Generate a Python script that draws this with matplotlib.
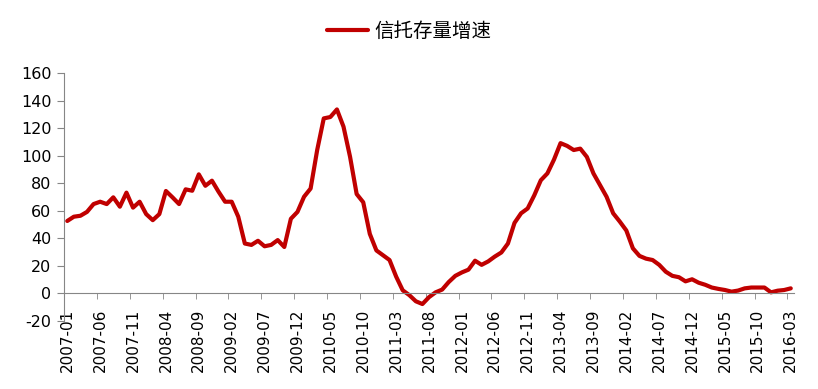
import matplotlib.pyplot as plt
import numpy as np

# 信托存量同比增速, 月度数据 2007-01 ~ 2016-03
months = [f"{y}-{m:02d}" for y in range(2007, 2017) for m in range(1, 13)][:111]

growth = [
    52.4, 55.5, 56.2, 59.0, 64.7, 66.4, 64.7, 69.6, 62.8, 73.0,
    62.1, 66.4, 57.4, 53.0, 57.4, 74.2, 69.6, 64.7, 75.4, 74.4,
    86.3, 78.0, 81.7, 73.7, 66.4, 66.4, 55.5, 36.0, 35.0, 38.0,
    34.0, 35.0, 38.5, 33.5, 54.0, 59.0, 70.0, 76.0, 104.0, 127.0,
    128.0, 133.5, 121.0, 99.0, 72.0, 66.0, 43.0, 31.0, 27.5, 24.0,
    12.0, 2.0, -1.5, -6.0, -8.0, -3.0, 0.5, 2.5, 8.0, 12.5,
    15.0, 17.0, 23.5, 20.5, 23.0, 26.5, 29.5, 36.0, 51.0, 58.0,
    61.5, 71.0, 82.0, 87.0, 97.0, 109.0, 107.0, 104.0, 105.0, 99.0,
    87.0, 78.5, 70.0, 58.0, 52.0, 45.5, 32.5, 27.0, 25.0, 24.0,
    20.5, 15.5, 12.5, 11.5, 8.5, 10.0, 7.5, 6.0, 4.0, 3.0,
    2.2, 1.0, 1.8, 3.4, 4.0, 4.0, 4.0, 0.5, 1.7, 2.2,
    3.4,
]

label_step = 5
yticks = list(range(-20, 161, 20))

plt.rcParams['font.family'] = ['Noto Sans CJK SC', 'DejaVu Sans']
plt.rcParams['axes.unicode_minus'] = False

fig = plt.figure(figsize=(8.18, 3.89), dpi=100)
ax = fig.add_axes([0.0782, 0.176, 0.8925, 0.6363])

x = np.arange(len(growth))
ax.plot(x, growth, color='#C00000', linewidth=3.0, solid_joinstyle='round',
        solid_capstyle='round', label='信托存量增速')

ax.set_xlim(-0.5, len(growth) - 0.5)
ax.set_ylim(-20, 160)

# 坐标轴样式
axis_color = '#868686'
for side in ['top', 'right']:
    ax.spines[side].set_visible(False)
ax.spines['left'].set_color(axis_color)
ax.spines['bottom'].set_color(axis_color)
ax.spines['bottom'].set_position(('data', 0))

ax.set_yticks(yticks)
ax.tick_params(axis='y', direction='out', length=5, color=axis_color,
               labelsize=11.5, pad=4)
for t in ax.get_yticklabels():
    t.set_family('DejaVu Sans')

major = x[::label_step]
ax.set_xticks(major)
ax.set_xticklabels([months[i] for i in major], rotation=90, family='DejaVu Sans')
ax.set_xticks(np.arange(-0.5, len(growth) - 1, label_step), minor=True)
ax.tick_params(axis='x', which='major', length=0, labelsize=11, pad=11)
ax.tick_params(axis='x', which='minor', direction='out', length=4, color=axis_color)

fig.legend(loc='center', bbox_to_anchor=(0.5, 0.92), frameon=False,
           fontsize=14, handlelength=2.15, handletextpad=0.3)

fig.savefig('out.png', dpi=100)
